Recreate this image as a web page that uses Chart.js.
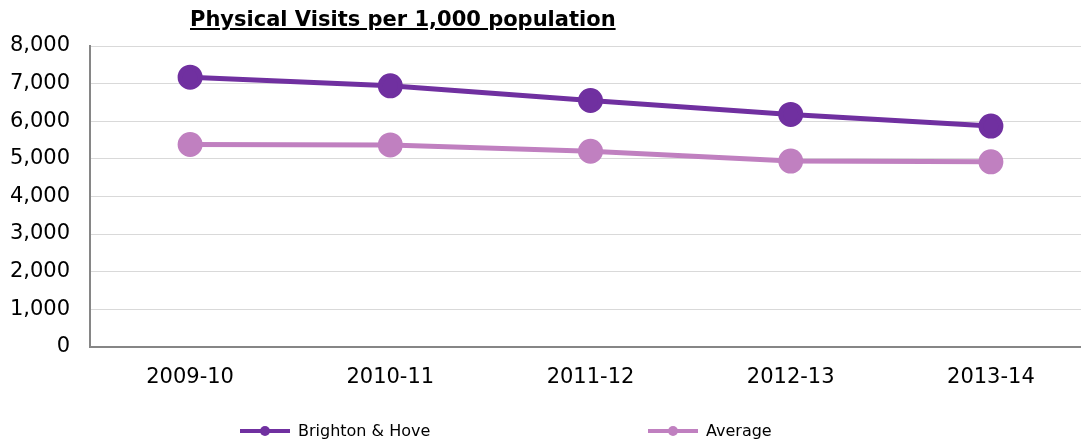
<!DOCTYPE html>
<html><head><meta charset="utf-8">
<script src="https://cdn.jsdelivr.net/npm/chart.js@4/dist/chart.umd.min.js"></script>
<style>
html,body{margin:0;padding:0;background:#fff;overflow:hidden;}
#wrap{position:relative;width:1081px;height:441px;overflow:hidden;}
#c{position:absolute;left:0;top:0;}
#title{position:absolute;left:190px;top:7px;font:bold 21px "DejaVu Sans",Verdana,sans-serif;text-decoration:underline;color:#000;white-space:nowrap;}
.leg{position:absolute;top:421px;font:16px "DejaVu Sans",sans-serif;color:#000;display:flex;align-items:center;white-space:nowrap;}
.leg svg{margin-right:8px;}
</style></head>
<body><div id="wrap">
<canvas id="c" width="1091" height="441"></canvas>
<div id="title">Physical Visits per 1,000 population</div>
<div class="leg" style="left:240px"><svg width="50" height="12"><line x1="0" y1="6" x2="50" y2="6" stroke="#7030A0" stroke-width="4"/><circle cx="25" cy="6" r="5" fill="#7030A0"/></svg>Brighton &amp; Hove</div>
<div class="leg" style="left:648px"><svg width="50" height="12"><line x1="0" y1="6" x2="50" y2="6" stroke="#C080C0" stroke-width="4"/><circle cx="25" cy="6" r="5" fill="#C080C0"/></svg>Average</div>
</div>
<script>
const categories = ["2009-10","2010-11","2011-12","2012-13","2013-14"];
const brightonHove = [7170, 6940, 6550, 6180, 5870];
const average = [5380, 5370, 5200, 4940, 4920];
const yTicks = [0,1000,2000,3000,4000,5000,6000,7000,8000];

new Chart(document.getElementById('c'), {
  type: 'line',
  data: {
    labels: categories,
    datasets: [
      {label:'Brighton & Hove', data: brightonHove, borderColor:'#7030A0', backgroundColor:'#7030A0', pointBackgroundColor:'#7030A0', pointBorderColor:'#7030A0', borderWidth:5, pointRadius:10, pointHoverRadius:10, tension:0},
      {label:'Average', data: average, borderColor:'#C080C0', backgroundColor:'#C080C0', pointBackgroundColor:'#C080C0', pointBorderColor:'#C080C0', borderWidth:5, pointRadius:10, pointHoverRadius:10, tension:0}
    ]
  },
  options: {
    responsive:false, animation:false,
    layout:{autoPadding:false, padding:{top:46, right:0, bottom:33, left:0}},
    plugins:{legend:{display:false}, title:{display:false}, tooltip:{enabled:false}},
    scales:{
      x:{offset:true, grid:{display:false, drawTicks:false}, border:{display:true, color:'#868686', width:2},
         ticks:{color:'#000', font:{family:'DejaVu Sans', size:21}, padding:18}},
      y:{min:0, max:8000, afterBuildTicks:(s)=>{s.ticks = yTicks.map(v=>({value:v}));},
         afterFit:(s)=>{s.width = 90;},
         grid:{color:'#D9D9D9', drawTicks:false, lineWidth:1}, border:{display:true, color:'#868686', width:2},
         ticks:{color:'#000', font:{family:'DejaVu Sans', size:21}, padding:20,
           callback:(v)=>v.toLocaleString('en-US')}}
    }
  }
});
</script>
</body></html>
